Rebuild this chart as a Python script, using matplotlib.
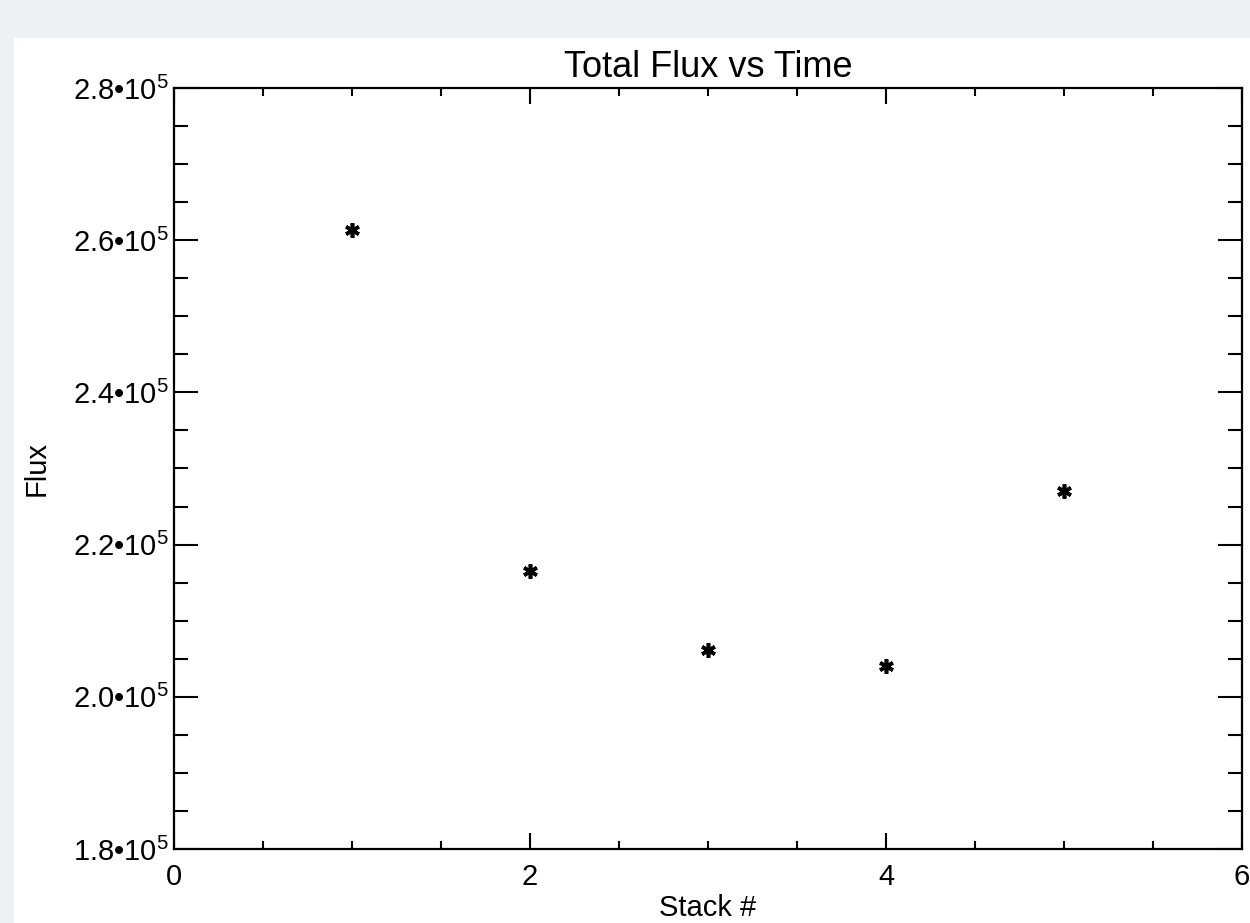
import matplotlib
matplotlib.use("Agg")
import matplotlib.pyplot as plt
from matplotlib.patches import Rectangle
from matplotlib.ticker import MultipleLocator, FuncFormatter

plt.rcParams["font.family"] = ["Liberation Sans", "DejaVu Sans"]
plt.rcParams["mathtext.fontset"] = "custom"
plt.rcParams["mathtext.rm"] = "Liberation Sans"
plt.rcParams["mathtext.it"] = "Liberation Sans"

# data
stack = [1, 2, 3, 4, 5]
flux = [2.613e5, 2.165e5, 2.062e5, 2.040e5, 2.270e5]

TITLE = "Total Flux vs Time"
XLABEL = "Stack #"
YLABEL = "Flux"

W, H = 1250, 923
fig = plt.figure(figsize=(W / 100, H / 100), dpi=100, facecolor="#edf0f5")
# white page area inside the grey frame (kept behind the axes)
page = Rectangle((14 / W, 0), 1 - 14 / W, 1 - 38 / H,
                 transform=fig.transFigure, facecolor="white",
                 edgecolor="none", zorder=-10)
fig.add_artist(page)

ax = fig.add_axes([174 / W, 1 - 849 / H, (1242 - 174) / W, (849 - 88) / H])
ax.set_zorder(5)
ax.plot(stack, flux, linestyle="none", marker=(6, 2, 0), markersize=10.5,
        markeredgewidth=2.6, color="black")

ax.set_xlim(0, 6)
ax.set_ylim(1.8e5, 2.8e5)
ax.xaxis.set_major_locator(MultipleLocator(2))
ax.xaxis.set_minor_locator(MultipleLocator(0.5))
ax.yaxis.set_major_locator(MultipleLocator(0.2e5))
ax.yaxis.set_minor_locator(MultipleLocator(0.05e5))


def sci(v, pos):
    return "%.1f•10$^{5}$" % (v / 1e5)


ax.yaxis.set_major_formatter(FuncFormatter(sci))
ax.xaxis.set_major_formatter(FuncFormatter(lambda v, p: "%d" % v))

ax.tick_params(axis="both", which="both", direction="in", top=True, right=True,
               width=1.5, colors="black", labelsize=21)
ax.tick_params(axis="x", which="major", length=11.5, pad=10)
ax.tick_params(axis="x", which="minor", length=5.8)
ax.tick_params(axis="y", which="major", length=17, pad=4)
ax.tick_params(axis="y", which="minor", length=10)
for s in ax.spines.values():
    s.set_linewidth(1.6)

ax.set_title(TITLE, fontsize=26, pad=8)
ax.set_xlabel(XLABEL, fontsize=21, labelpad=2)
ax.set_ylabel(YLABEL, fontsize=21, labelpad=16)

fig.savefig("out.png", dpi=100, facecolor=fig.get_facecolor())
